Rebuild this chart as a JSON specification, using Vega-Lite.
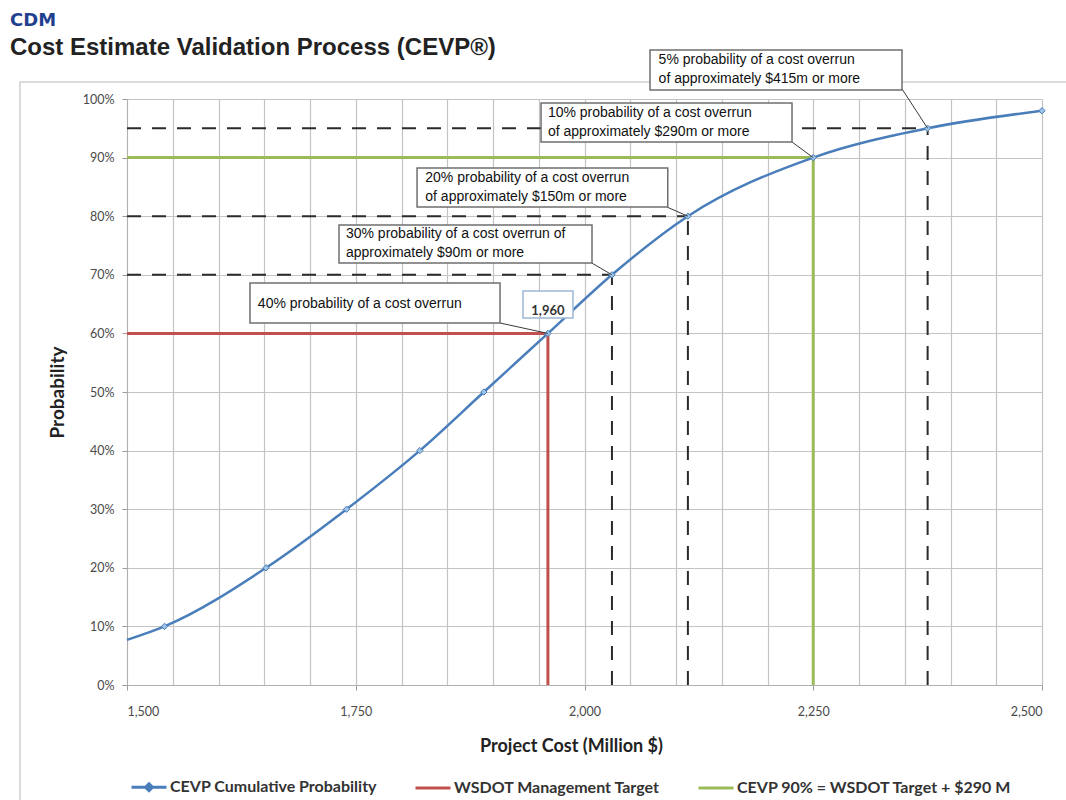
{
  "$schema": "https://vega.github.io/schema/vega-lite/v6.json",
  "description": "CEVP cumulative probability curve with cost overrun annotations.",
  "width": 915,
  "height": 586,
  "autosize": {"type": "none"},
  "padding": {"left": 127, "top": 99, "right": 24, "bottom": 115},
  "title": {
    "text": "CDM",
    "subtitle": "Cost Estimate Validation Process (CEVP®)",
    "anchor": "start",
    "frame": "group",
    "dx": -117,
    "offset": -11,
    "font": "DejaVu Sans",
    "fontSize": 18,
    "fontWeight": "bold",
    "color": "#1f3f8f",
    "subtitleFont": "Liberation Sans",
    "subtitleFontSize": 24,
    "subtitleFontWeight": "bold",
    "subtitleColor": "#222222",
    "subtitlePadding": 6
  },
  "datasets": {
    "curve": [
      {"cost": 1500, "prob": 0.077, "series": "CEVP Cumulative Probability"},
      {"cost": 1541, "prob": 0.10, "series": "CEVP Cumulative Probability"},
      {"cost": 1652, "prob": 0.20, "series": "CEVP Cumulative Probability"},
      {"cost": 1740, "prob": 0.30, "series": "CEVP Cumulative Probability"},
      {"cost": 1820, "prob": 0.40, "series": "CEVP Cumulative Probability"},
      {"cost": 1890, "prob": 0.50, "series": "CEVP Cumulative Probability"},
      {"cost": 1960, "prob": 0.60, "series": "CEVP Cumulative Probability"},
      {"cost": 2030, "prob": 0.70, "series": "CEVP Cumulative Probability"},
      {"cost": 2113, "prob": 0.80, "series": "CEVP Cumulative Probability"},
      {"cost": 2250, "prob": 0.90, "series": "CEVP Cumulative Probability"},
      {"cost": 2375, "prob": 0.95, "series": "CEVP Cumulative Probability"},
      {"cost": 2500, "prob": 0.98, "series": "CEVP Cumulative Probability"}
    ],
    "targets": [
      {"series": "WSDOT Management Target", "cost": 1500, "cost2": 1960, "prob": 0.6, "prob2": 0.6},
      {"series": "WSDOT Management Target", "cost": 1960, "cost2": 1960, "prob": 0, "prob2": 0.6},
      {"series": "CEVP 90%  =  WSDOT Target + $290 M", "cost": 1500, "cost2": 2250, "prob": 0.9, "prob2": 0.9},
      {"series": "CEVP 90%  =  WSDOT Target + $290 M", "cost": 2250, "cost2": 2250, "prob": 0, "prob2": 0.9}
    ],
    "dashed": [
      {"cost": 1500, "cost2": 2375, "prob": 0.95, "prob2": 0.95},
      {"cost": 1500, "cost2": 2113, "prob": 0.80, "prob2": 0.80},
      {"cost": 1500, "cost2": 2030, "prob": 0.70, "prob2": 0.70},
      {"cost": 2375, "cost2": 2375, "prob": 0, "prob2": 0.95},
      {"cost": 2113, "cost2": 2113, "prob": 0, "prob2": 0.80},
      {"cost": 2030, "cost2": 2030, "prob": 0, "prob2": 0.70}
    ],
    "notes": [
      {"label": "5% probability of a cost overrun\nof approximately $415m or more", "bx1": 2071.6, "bx2": 2347, "by1": 1.0836, "by2": 1.0154, "tx": 2081, "ty": 1.0657, "lx": 2347, "ly": 1.0171, "px": 2375, "py": 0.95},
      {"label": "10% probability of a cost overrun\nof approximately $290m or more", "bx1": 1952.5, "bx2": 2226.8, "by1": 0.9932, "by2": 0.9266, "tx": 1960, "ty": 0.9761, "lx": 2226.8, "ly": 0.9266, "px": 2250, "py": 0.90},
      {"label": "20% probability of a cost overrun\nof approximately $150m or more", "bx1": 1817, "bx2": 2091, "by1": 0.8823, "by2": 0.8157, "tx": 1826, "ty": 0.8652, "lx": 2090, "ly": 0.8157, "px": 2113, "py": 0.80},
      {"label": "30% probability of a cost overrun of\napproximately $90m or more", "bx1": 1731.7, "bx2": 2008.2, "by1": 0.785, "by2": 0.7201, "tx": 1739.3, "ty": 0.7688, "lx": 2008, "ly": 0.7201, "px": 2030, "py": 0.70},
      {"label": "40% probability of a cost overrun", "bx1": 1634.4, "bx2": 1907.7, "by1": 0.686, "by2": 0.6177, "tx": 1643, "ty": 0.651, "lx": 1907.7, "ly": 0.6177, "px": 1960, "py": 0.60}
    ],
    "callout": [
      {"label": "1,960", "bx1": 1932.8, "bx2": 1987.4, "by1": 0.6724, "by2": 0.6263, "tx": 1960, "ty": 0.6374}
    ],
    "frame": [
      {"x1": 1383, "x2": 2620, "y1": 1.029, "y2": -0.3}
    ]
  },
  "encoding": {
    "x": {
      "type": "quantitative",
      "scale": {"domain": [1500, 2500], "nice": false, "zero": false},
      "axis": {
        "title": "Project Cost (Million $)",
        "values": [1500, 1550, 1600, 1650, 1700, 1750, 1800, 1850, 1900, 1950, 2000, 2050, 2100, 2150, 2200, 2250, 2300, 2350, 2400, 2450, 2500],
        "labelExpr": "datum.value % 250 === 0 ? format(datum.value, ',') : ''",
        "tickOpacity": {"condition": {"test": "datum.value % 250 === 0", "value": 1}, "value": 0},
        "tickSize": 5,
        "labelPadding": 15,
        "titlePadding": 20,
        "titleX": 444
      }
    },
    "y": {
      "type": "quantitative",
      "scale": {"domain": [0, 1], "nice": false},
      "axis": {
        "title": "Probability",
        "values": [0, 0.1, 0.2, 0.3, 0.4, 0.5, 0.6, 0.7, 0.8, 0.9, 1],
        "format": ".0%",
        "tickSize": 5,
        "labelPadding": 8,
        "titlePadding": 15,
        "titleFontSize": 19
      }
    }
  },
  "layer": [
    {
      "data": {"name": "frame"},
      "mark": {"type": "rect", "fill": null, "stroke": "#cfcfcf", "strokeWidth": 1.5},
      "encoding": {
        "x": {"field": "x1"}, "x2": {"field": "x2"},
        "y": {"field": "y1"}, "y2": {"field": "y2"}
      }
    },
    {
      "data": {"name": "dashed"},
      "mark": {"type": "rule", "color": "#2b2b2b", "strokeWidth": 2, "strokeDash": [14, 11]},
      "encoding": {
        "x": {"field": "cost"}, "x2": {"field": "cost2"},
        "y": {"field": "prob"}, "y2": {"field": "prob2"}
      }
    },
    {
      "data": {"name": "targets"},
      "mark": {"type": "rule", "strokeWidth": 3},
      "encoding": {
        "x": {"field": "cost"}, "x2": {"field": "cost2"},
        "y": {"field": "prob"}, "y2": {"field": "prob2"},
        "color": {"field": "series", "type": "nominal"}
      }
    },
    {
      "data": {"name": "curve"},
      "mark": {"type": "line", "strokeWidth": 2.5, "interpolate": "monotone"},
      "encoding": {
        "x": {"field": "cost"},
        "y": {"field": "prob"},
        "color": {
          "field": "series",
          "type": "nominal",
          "scale": {
            "domain": ["CEVP Cumulative Probability", "WSDOT Management Target", "CEVP 90%  =  WSDOT Target + $290 M"],
            "range": ["#4a7ebb", "#c0504d", "#9bbb59"]
          },
          "legend": {
            "orient": "none",
            "legendX": 3,
            "legendY": 669,
            "direction": "horizontal",
            "title": null,
            "padding": 0,
            "symbolType": "stroke",
            "symbolSize": 1225,
            "symbolStrokeWidth": 3,
            "labelFont": "Lato",
            "labelFontSize": 16,
            "labelFontWeight": "bold",
            "labelColor": "#333333",
            "labelOffset": 2,
            "columnPadding": 32,
            "labelLimit": 400,
            "encode": {
              "symbols": {
                "update": {
                  "shape": {"signal": "datum.value === 'CEVP Cumulative Probability' ? 'M-1,0H1M0,-0.2L0.2,0L0,0.2L-0.2,0Z' : 'stroke'"},
                  "fill": {"signal": "datum.value === 'CEVP Cumulative Probability' ? '#8db3e2' : 'transparent'"}
                }
              }
            }
          }
        }
      }
    },
    {
      "data": {"name": "curve"},
      "transform": [{"filter": "datum.cost > 1500"}],
      "mark": {"type": "point", "shape": "diamond", "filled": true, "size": 40, "fill": "#9dc3e6", "stroke": "#4a7ebb", "strokeWidth": 1, "opacity": 1},
      "encoding": {
        "x": {"field": "cost"},
        "y": {"field": "prob"}
      }
    },
    {
      "data": {"name": "notes"},
      "mark": {"type": "rule", "color": "#3a3a3a", "strokeWidth": 1},
      "encoding": {
        "x": {"field": "lx"}, "x2": {"field": "px"},
        "y": {"field": "ly"}, "y2": {"field": "py"}
      }
    },
    {
      "data": {"name": "notes"},
      "mark": {"type": "rect", "fill": "#ffffff", "stroke": "#6f6f6f", "strokeWidth": 1.5},
      "encoding": {
        "x": {"field": "bx1"}, "x2": {"field": "bx2"},
        "y": {"field": "by1"}, "y2": {"field": "by2"}
      }
    },
    {
      "data": {"name": "notes"},
      "mark": {"type": "text", "align": "left", "baseline": "middle", "font": "Liberation Sans", "fontSize": 14, "lineHeight": 19, "lineBreak": "\n", "color": "#111111"},
      "encoding": {
        "x": {"field": "tx"},
        "y": {"field": "ty"},
        "text": {"field": "label"}
      }
    },
    {
      "data": {"name": "callout"},
      "mark": {"type": "rect", "fill": "#ffffff", "stroke": "#9cb8d6", "strokeWidth": 1.5},
      "encoding": {
        "x": {"field": "bx1"}, "x2": {"field": "bx2"},
        "y": {"field": "by1"}, "y2": {"field": "by2"}
      }
    },
    {
      "data": {"name": "callout"},
      "mark": {"type": "text", "align": "center", "baseline": "middle", "font": "Lato", "fontSize": 13, "fontWeight": "bold", "color": "#333333"},
      "encoding": {
        "x": {"field": "tx"},
        "y": {"field": "ty"},
        "text": {"field": "label"}
      }
    }
  ],
  "config": {
    "view": {"stroke": null},
    "axis": {
      "grid": true,
      "gridColor": "#c4c4c4",
      "gridWidth": 1.2,
      "domainColor": "#b0b0b0",
      "tickColor": "#999999",
      "labelFont": "Lato",
      "labelFontSize": 12.5,
      "labelColor": "#4a4a4a",
      "titleFont": "Lato",
      "titleFontSize": 18,
      "titleFontWeight": "bold",
      "titleColor": "#222222"
    }
  }
}
